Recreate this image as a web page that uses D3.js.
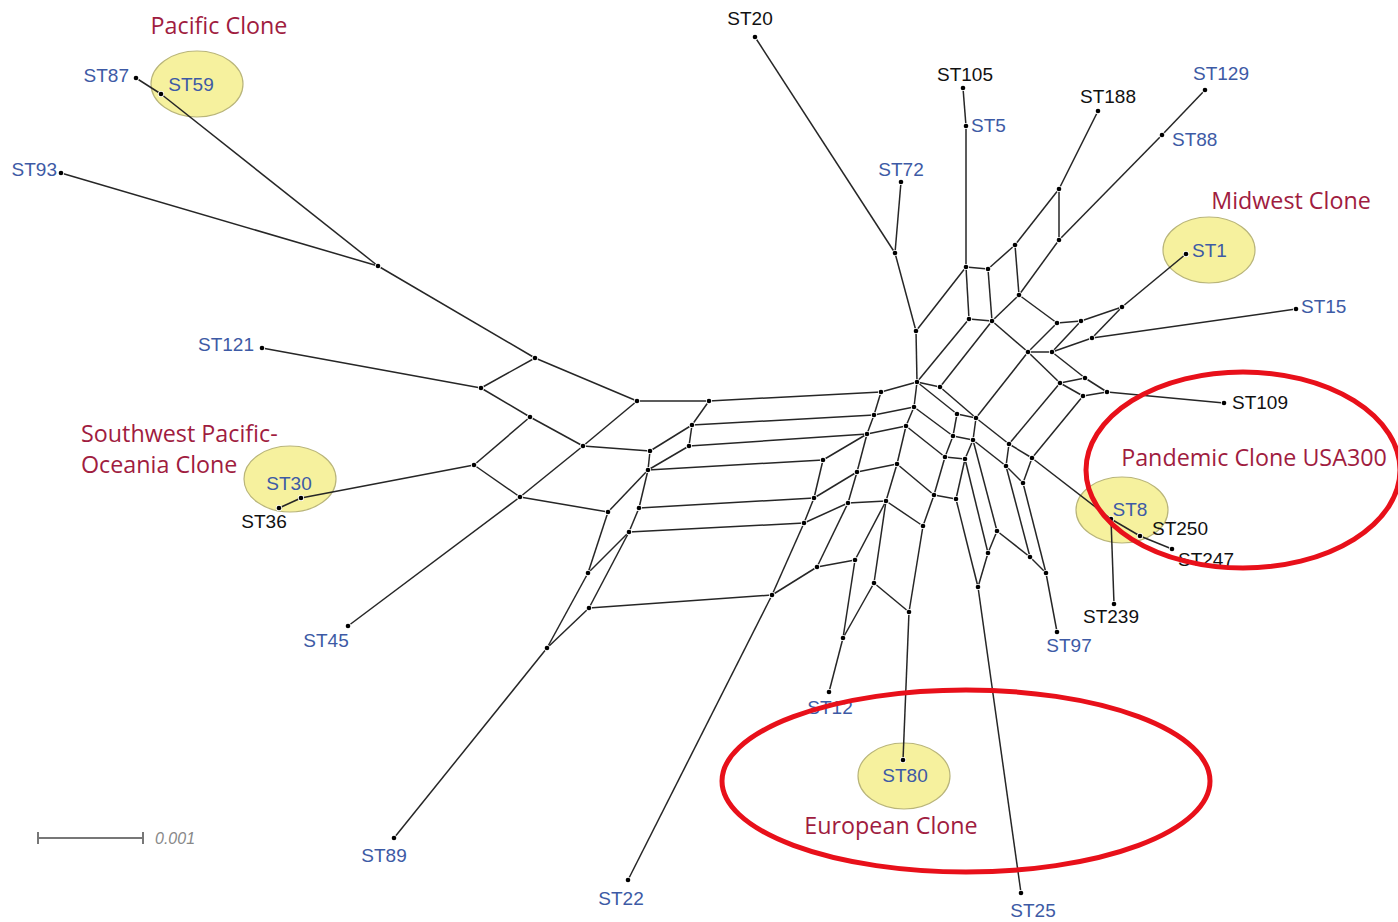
<!DOCTYPE html>
<html>
<head>
<meta charset="utf-8">
<script src="https://cdn.jsdelivr.net/npm/d3@7"></script>
<style>
  body { margin: 0; background: #fff; }
  svg { display: block; }
</style>
</head>
<body>
<div id="net"></div>
<script>
// split network layout, node coordinates (layout units)
var internalNodes = [
  ["A1",378,266],["A2",535,358],["A3",481,388],["A4",530,417],["A5",637,401],["A6",583,446],
  ["A7",474,465],["A8",520,497],["A9",608,512],
  ["B1",709,401],["B2",692,425],["B3",650,451],["B4",689,446],["B5",648,470],["B6",823,460],
  ["B7",867,434],["B8",874,415],["B9",857,472],["B10",639,508],["B11",814,498],["B12",848,503],
  ["B13",629,532],["B14",804,523],["B15",588,573],["B16",817,567],["B17",855,560],["B18",772,595],
  ["B19",589,608],["B20",874,583],["B21",547,648],["B22",843,638],
  ["C1",881,392],["C2",917,382],["C3",914,407],["C4",906,426],["C5",897,464],["C6",940,387],
  ["C7",957,414],["C8",976,418],["C9",953,436],["C10",973,440],["C11",1009,444],["C12",1032,458],
  ["C13",1006,466],["C14",1023,483],["C15",945,457],["C16",965,459],
  ["D1",886,501],["D2",934,495],["D3",956,499],["D5",923,526],["D6",997,531],["D7",988,553],
  ["D8",1030,557],["D9",1046,573],["D10",978,587],["D11",909,612],
  ["E1",895,253],["E2",916,331],["E3",966,267],["E4",988,269],["E5",969,319],["E6",992,321],
  ["E7",1015,245],["E8",1019,295],["E9",1059,189],["E10",1059,240],["E11",1057,323],["E12",1081,321],
  ["E13",1122,307],["E14",1092,338],["E15",1028,352],["E16",1052,352],["E17",1060,383],["E18",1085,378],
  ["E19",1107,392],["E20",1083,396]
];

// sequence types (leaves): id, x, y, label colour group
var leafNodes = [
  ["ST20",755,37,"k"],["ST105",963,88,"k"],["ST5",966,126,"b"],["ST188",1098,111,"k"],
  ["ST129",1205,90,"b"],["ST88",1162,135,"b"],["ST72",901,182,"b"],["ST1",1186,254,"b"],
  ["ST15",1296,309,"b"],["ST109",1224,403,"k"],["ST8",1111,519,"b"],["ST250",1140,536,"k"],
  ["ST247",1172,549,"k"],["ST239",1114,604,"k"],["ST97",1057,632,"b"],["ST25",1021,893,"b"],
  ["ST80",903,760,"b"],["ST12",829,692,"b"],["ST22",628,880,"b"],["ST89",394,838,"b"],
  ["ST45",348,626,"b"],["ST36",279,508,"k"],["ST30",301,498,"b"],["ST121",262,348,"b"],
  ["ST93",61,173,"b"],["ST87",136,78,"b"],["ST59",161,94,"b"]
];

var edges = [
  "A1-ST59","A1-ST93","A1-A2","A2-A3","A2-A5","A3-A4","A3-ST121","A4-A6","A4-A7","A5-A6","A5-B1",
  "A6-A8","A6-B3","A7-A8","A7-ST30","A8-A9","A8-ST45","A9-B5","A9-B15",
  "B1-B2","B1-C1","B2-B3","B2-B4","B2-B8","B3-B5","B4-B5","B4-B7","B5-B6","B5-B10","B6-B7","B6-B11",
  "B7-B8","B7-C4","B7-B9","B8-C1","B8-C3","B9-B11","B9-C5","B9-B12","B10-B11","B10-B13","B11-B14",
  "B12-B14","B12-D1","B12-B16","B13-B14","B13-B15","B13-B19","B14-B18","B15-B21","B16-B18","B16-B17",
  "B17-D1","B17-B22","B18-B19","B18-ST22","B19-B21","B20-D1","B20-D11","B20-B22","B21-ST89","B22-ST12",
  "C1-C2","C2-C6","C2-C3","C2-C7","C2-E2","C2-E5","C3-C4","C3-C9","C4-C5","C4-C15","C5-D1","C5-D2",
  "C6-C8","C6-E6","C7-C8","C7-C9","C8-C10","C8-C11","C8-E15","C9-C10","C9-C15","C10-C16","C10-C13",
  "C10-D6","C11-C12","C11-C13","C11-E17","C12-C14","C12-E20","C12-ST8","C13-C14","C13-D8","C14-D9",
  "C15-C16","C15-D2","C16-D3","C16-D7",
  "D1-D5","D2-D3","D2-D5","D3-D10","D5-D11","D6-D7","D6-D8","D7-D10","D8-D9","D9-ST97","D10-ST25","D11-ST80",
  "E1-ST20","E1-ST72","E1-E2","E2-E3","E3-E4","E3-E5","E3-ST5","ST5-ST105","E4-E6","E4-E7","E5-E6",
  "E6-E8","E6-E15","E7-E8","E7-E9","E8-E10","E8-E11","E9-E10","E9-ST188","E10-ST88","ST88-ST129",
  "E11-E12","E11-E15","E12-E13","E12-E16","E13-E14","E13-ST1","E14-E16","E14-ST15","E15-E16","E15-E17",
  "E16-E18","E17-E18","E17-E20","E18-E19","E19-E20","E19-ST109",
  "ST8-ST250","ST250-ST247","ST8-ST239","ST59-ST87","ST30-ST36"
];

// clone highlights: leaf, clone name lines
var highlighted = ["ST59","ST1","ST30","ST8","ST80"];
var cloneNames = ["Pacific Clone","Midwest Clone","Southwest Pacific-","Oceania Clone","Pandemic Clone USA300","European Clone"];
var scaleBarValue = 0.001;
var scaleBarLayout = 105; // layout units for 0.001

// label placement (layout only)
var labelAt = {
  ST20:[750,25,"middle"], ST105:[965,81,"middle"], ST5:[971,132,"start"], ST188:[1108,103,"middle"],
  ST129:[1221,80,"middle"], ST88:[1172,146,"start"], ST72:[901,176,"middle"], ST1:[1192,257,"start"],
  ST15:[1301,313,"start"], ST109:[1232,409,"start"], ST8:[1130,516,"middle"], ST250:[1152,535,"start"],
  ST247:[1178,566,"start"], ST239:[1111,623,"middle"], ST97:[1069,652,"middle"], ST25:[1033,917,"middle"],
  ST80:[905,782,"middle"], ST12:[830,714,"middle"], ST22:[621,905,"middle"], ST89:[384,862,"middle"],
  ST45:[326,647,"middle"], ST36:[264,528,"middle"], ST30:[289,490,"middle"], ST121:[254,351,"end"],
  ST93:[57,176,"end"], ST87:[129,82,"end"], ST59:[191,91,"middle"]
};
var ellipseAt = {ST59:[197,84], ST1:[1209,250], ST30:[290,479], ST8:[1122,510], ST80:[904,776]};
var titleAt = [[219,34,"middle"],[1291,209,"middle"],[81,442,"start"],[81,473,"start"],[1254,466,"middle"],[891,834,"middle"]];

var svgWidth = 1398, svgHeight = 922;
var svg = d3.select("#net").append("svg")
  .attr("width", svgWidth).attr("height", svgHeight);

var x = d3.scaleLinear().domain([0, 1398]).range([0, svgWidth]);
var y = d3.scaleLinear().domain([0, 922]).range([0, svgHeight]);

var pos = {};
internalNodes.forEach(function(n) { pos[n[0]] = [n[1], n[2]]; });
leafNodes.forEach(function(n) { pos[n[0]] = [n[1], n[2]]; });

// yellow clone ellipses
svg.append("g").selectAll("ellipse")
  .data(highlighted)
  .enter().append("ellipse")
  .attr("cx", d => x(ellipseAt[d][0]))
  .attr("cy", d => y(ellipseAt[d][1]))
  .attr("rx", 46).attr("ry", 33)
  .attr("fill", "#f6f19e")
  .attr("stroke", "#b9b57a")
  .attr("stroke-width", 1.2);

// network edges
svg.append("g").selectAll("line")
  .data(edges.map(e => e.split("-")))
  .enter().append("line")
  .attr("x1", d => x(pos[d[0]][0])).attr("y1", d => y(pos[d[0]][1]))
  .attr("x2", d => x(pos[d[1]][0])).attr("y2", d => y(pos[d[1]][1]))
  .attr("stroke", "#262626")
  .attr("stroke-width", 1.5);

// nodes
var allNodes = internalNodes.concat(leafNodes);
svg.append("g").selectAll("circle")
  .data(allNodes)
  .enter().append("circle")
  .attr("cx", d => x(d[1])).attr("cy", d => y(d[2]))
  .attr("r", 2.3)
  .attr("fill", "#000")
  .attr("stroke", "#fff")
  .attr("stroke-width", 1.6)
  .attr("paint-order", "stroke");

// leaf labels
svg.append("g").selectAll("text")
  .data(leafNodes)
  .enter().append("text")
  .attr("x", d => x(labelAt[d[0]][0]))
  .attr("y", d => y(labelAt[d[0]][1]))
  .attr("text-anchor", d => labelAt[d[0]][2])
  .attr("font-family", "Liberation Sans, Arial, sans-serif")
  .attr("font-size", "19px")
  .attr("fill", d => d[3] === "b" ? "#3d5aa5" : "#111")
  .text(d => d[0]);

// clone names
svg.append("g").selectAll("text")
  .data(cloneNames)
  .enter().append("text")
  .attr("x", (d, i) => titleAt[i][0])
  .attr("y", (d, i) => titleAt[i][1])
  .attr("text-anchor", (d, i) => titleAt[i][2])
  .attr("font-family", "Open Sans, Noto Sans, sans-serif")
  .attr("font-size", "23.3px")
  .attr("fill", "#a01c40")
  .text(d => d);

// red circled groups
svg.append("ellipse")
  .attr("cx", 1243).attr("cy", 470).attr("rx", 157).attr("ry", 98)
  .attr("fill", "none").attr("stroke", "#e8101a").attr("stroke-width", 5);
svg.append("ellipse")
  .attr("cx", 966).attr("cy", 781).attr("rx", 244).attr("ry", 91)
  .attr("fill", "none").attr("stroke", "#e8101a").attr("stroke-width", 5);

// scale bar
var bar = svg.append("g").attr("stroke", "#777").attr("stroke-width", 2);
var bx0 = x(38), bx1 = x(38 + scaleBarLayout), by = y(838);
bar.append("line").attr("x1", bx0).attr("x2", bx1).attr("y1", by).attr("y2", by);
bar.append("line").attr("x1", bx0).attr("x2", bx0).attr("y1", by - 6).attr("y2", by + 6);
bar.append("line").attr("x1", bx1).attr("x2", bx1).attr("y1", by - 6).attr("y2", by + 6);
svg.append("text")
  .attr("x", bx1 + 12).attr("y", by + 6)
  .attr("font-family", "Liberation Sans, Arial, sans-serif")
  .attr("font-style", "italic")
  .attr("font-size", "16px")
  .attr("fill", "#888")
  .text(d3.format(".3f")(scaleBarValue));
</script>
</body>
</html>
